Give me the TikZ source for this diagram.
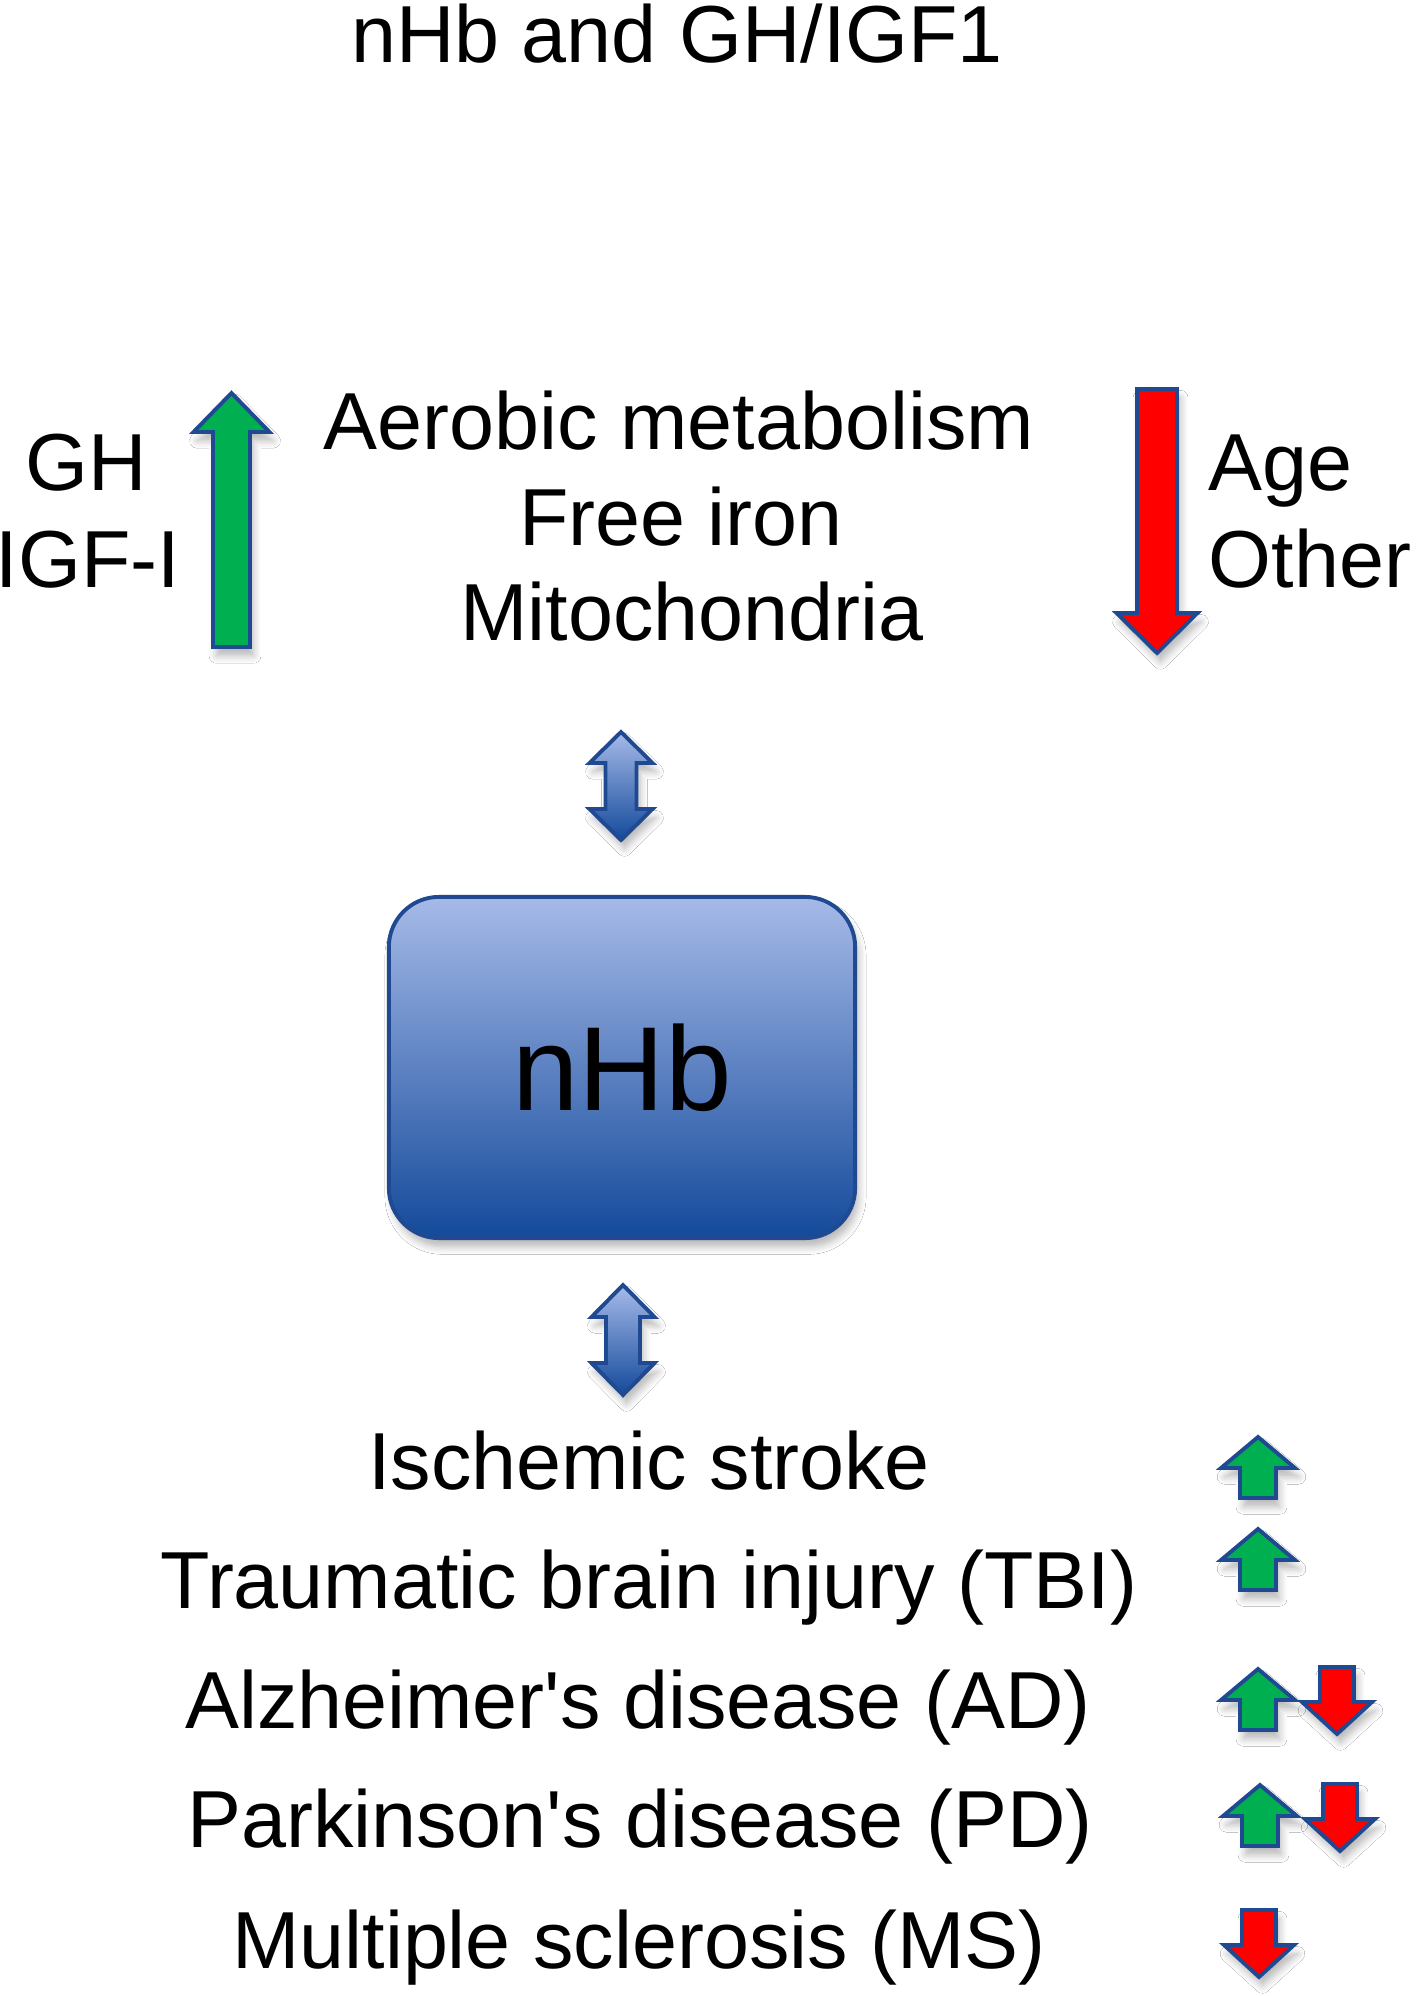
\documentclass[tikz,border=0pt]{standalone}
\usepackage{fontspec}
\setmainfont{Liberation Sans}
\usepackage{tikz}
\usetikzlibrary{shadows.blur}
\definecolor{upgreen}{RGB}{0,176,80}
\definecolor{downred}{RGB}{255,0,0}
\definecolor{rim}{RGB}{31,73,145}
\definecolor{lightblue}{RGB}{166,186,232}
\definecolor{darkblue}{RGB}{20,74,155}
\tikzstyle{lbl}=[inner sep=0pt, font=\fontsize{23}{27}\selectfont]
\tikzstyle{blk}=[draw=rim, line width=1.1pt, line join=miter,
  blur shadow={shadow xshift=1pt, shadow yshift=-2.5pt, shadow blur steps=6, shadow opacity=28}]
\tikzstyle{gblk}=[blk, fill=upgreen]
\tikzstyle{rblk}=[blk, fill=downred]
\tikzstyle{bblk}=[blk, top color=lightblue, bottom color=darkblue]
\tikzstyle{hbbox}=[bblk, rounded corners=0.5cm, minimum width=4.66cm, minimum height=3.41cm,
  font=\fontsize{34}{40}\selectfont]
% single block arrow: style, tip, dir (1 = up, -1 = down), length, head length, head half, shaft half
\newcommand{\blockarr}[7]{%
  \draw[#1] (#2) -- ++({#6},{#3*#5}) -- ++({-(#6-#7)},0) -- ++(0,{#3*(#4-#5)})
    -- ++({-2*#7},0) -- ++(0,{-#3*(#4-#5)}) -- ++({-(#6-#7)},0) -- cycle;}
% double block arrow: style, top tip, length, head length, head half, shaft half
\newcommand{\dblarr}[6]{%
  \draw[#1] (#2) -- ++({#5},{#4}) -- ++({-(#5-#6)},0) -- ++(0,{#3-2*#4})
    -- ++({#5-#6},0) -- ++({-#5},{#4}) -- ++({-#5},{-#4}) -- ++({#5-#6},0)
    -- ++(0,{-(#3-2*#4)}) -- ++({-(#5-#6)},0) -- cycle;}
\begin{document}
\begin{tikzpicture}[x=0.01cm, y=-0.01cm]
        \useasboundingbox[fill=white] (0,0) rectangle (1417,1996);
        \node[lbl, anchor=base]      (title) at (677, 62)   {nHb and GH/IGF1};
        % top row
        \node[lbl, anchor=base]      (gh)    at (86, 490)   {GH};
        \node[lbl, anchor=base]      (igf)   at (88, 587)   {IGF-I};
        \node[lbl, anchor=base]      (aer)   at (679, 449)  {Aerobic metabolism};
        \node[lbl, anchor=base]      (iron)  at (681, 545)  {Free iron};
        \node[lbl, anchor=base]      (mito)  at (692, 640)  {Mitochondria};
        \node[lbl, anchor=base west] (age)   at (1208, 490) {Age};
        \node[lbl, anchor=base west] (other) at (1208, 587) {Other};
        \coordinate (Gup) at (231.5, 393);
        \coordinate (Rdn) at (1157, 653);
        \blockarr{gblk}{Gup}{1}{254}{39}{38}{18.5}
        \blockarr{rblk}{Rdn}{-1}{264}{40}{40.5}{20}
        % nHb box
        \coordinate (L1) at (621, 732);
        \dblarr{bblk}{L1}{108}{31}{31.5}{15.5}
        \node[hbbox] (nhb) at (622, 1067.5) {nHb};
        \coordinate (L2) at (623, 1285);
        \dblarr{bblk}{L2}{110}{32}{31.5}{17}
        % diseases
        \node[lbl, anchor=base]      (isch)  at (649, 1489) {Ischemic stroke};
        \node[lbl, anchor=base]      (tbi)   at (649, 1608) {Traumatic brain injury (TBI)};
        \node[lbl, anchor=base]      (ad)    at (638, 1728) {Alzheimer\textquotesingle s disease (AD)};
        \node[lbl, anchor=base]      (pd)    at (640, 1847) {Parkinson\textquotesingle s disease (PD)};
        \node[lbl, anchor=base]      (ms)    at (639, 1968) {Multiple sclerosis (MS)};
        \coordinate (G1) at (1258, 1437);
        \coordinate (G2) at (1258, 1529);
        \coordinate (G3) at (1258, 1669);
        \coordinate (G4) at (1260, 1785);
        \coordinate (R3) at (1337, 1734);
        \coordinate (R4) at (1340, 1851);
        \coordinate (R5) at (1259, 1977);
        \blockarr{gblk}{G1}{1}{61}{31}{37}{18}
        \blockarr{gblk}{G2}{1}{61}{31}{37}{18}
        \blockarr{gblk}{G3}{1}{61}{31}{37}{18}
        \blockarr{gblk}{G4}{1}{61}{31}{37}{18}
        \blockarr{rblk}{R3}{-1}{67}{32}{35}{17}
        \blockarr{rblk}{R4}{-1}{67}{32}{35}{17}
        \blockarr{rblk}{R5}{-1}{67}{32}{35}{17}
    \end{tikzpicture}
\end{document}
